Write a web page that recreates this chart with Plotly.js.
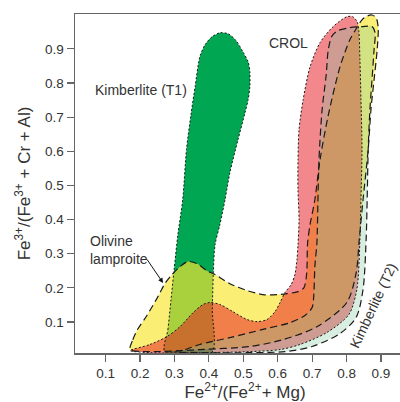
<!DOCTYPE html>
<html>
<head>
<meta charset="utf-8">
<script src="https://cdn.plot.ly/plotly-3.0.1.min.js"></script>
<style>
html,body{margin:0;padding:0;overflow:hidden;background:#fff;}
#chart{width:420px;height:402px;}
</style>
</head>
<body>
<div id="chart"></div>
<script>
// Field outlines (x = Fe2+/(Fe2+ + Mg), y = Fe3+/(Fe3+ + Cr + Al))
const t1X = [0.272,0.281,0.290,0.299,0.310,0.324,0.335,0.348,0.360,0.374,0.389,0.409,0.432,0.456,0.479,0.499,0.514,0.519,0.519,0.514,0.505,0.485,0.461,0.447,0.432,0.418,0.413,0.410,0.408];
const t1Y = [0.013,0.078,0.165,0.253,0.356,0.458,0.605,0.707,0.789,0.877,0.912,0.935,0.947,0.944,0.924,0.891,0.862,0.833,0.789,0.751,0.713,0.635,0.537,0.458,0.385,0.326,0.244,0.136,0.010];

const olX = [0.171,0.179,0.191,0.220,0.252,0.272,0.293,0.316,0.339,0.365,0.394,0.418,0.461,0.511,0.557,0.598,0.627,0.657,0.676,0.684,0.687,0.694,0.708,0.723,0.746,0.781,0.810,0.830,0.845,0.860,0.874,0.886,0.892,0.889,0.880,0.871,0.863,0.848,0.837,0.828,0.801,0.714,0.615,0.519,0.374,0.229];
const olY = [0.019,0.048,0.075,0.119,0.174,0.212,0.239,0.262,0.277,0.271,0.250,0.239,0.212,0.192,0.180,0.180,0.183,0.188,0.200,0.240,0.332,0.385,0.458,0.575,0.701,0.847,0.927,0.962,0.985,0.996,0.999,0.991,0.962,0.897,0.809,0.722,0.605,0.458,0.341,0.244,0.157,0.086,0.048,0.028,0.019,0.013];

const crolX = [0.171,0.229,0.278,0.316,0.354,0.383,0.403,0.432,0.470,0.511,0.540,0.569,0.592,0.607,0.621,0.639,0.650,0.656,0.659,0.662,0.659,0.659,0.662,0.674,0.694,0.723,0.761,0.801,0.818,0.831,0.836,0.839,0.842,0.845,0.842,0.839,0.830,0.807,0.743,0.665,0.607,0.519,0.374,0.229];
const crolY = [0.016,0.034,0.057,0.086,0.127,0.151,0.157,0.151,0.130,0.107,0.101,0.107,0.130,0.157,0.186,0.209,0.239,0.282,0.326,0.400,0.487,0.575,0.663,0.751,0.847,0.918,0.965,0.994,0.994,0.979,0.950,0.868,0.751,0.605,0.458,0.341,0.195,0.122,0.069,0.034,0.019,0.013,0.010,0.010];

const t2X = [0.302,0.331,0.374,0.461,0.557,0.636,0.679,0.700,0.705,0.708,0.714,0.717,0.720,0.729,0.741,0.747,0.758,0.775,0.810,0.845,0.874,0.883,0.880,0.874,0.868,0.863,0.860,0.857,0.848,0.828,0.781,0.700,0.621,0.519,0.374];
const t2Y = [0.013,0.019,0.034,0.054,0.078,0.098,0.119,0.142,0.180,0.262,0.332,0.458,0.575,0.721,0.824,0.897,0.938,0.953,0.962,0.965,0.965,0.947,0.897,0.809,0.722,0.605,0.458,0.341,0.195,0.113,0.066,0.028,0.013,0.010,0.010];

const tickVals = [0.1,0.2,0.3,0.4,0.5,0.6,0.7,0.8,0.9];
const tickText = ['0.1','0.2','0.3','0.4','0.5','0.6','0.7','0.8','0.9'];

const fields = [
  {x: t1X, y: t1Y, fill: 'rgb(0,166,81)', dash: '2px,2px', w: 1.0},
  {x: olX, y: olY, fill: 'rgba(248,230,52,0.68)', dash: '7px,4px', w: 1.2},
  {x: crolX, y: crolY, fill: 'rgba(230,25,34,0.52)', dash: '2px,2px', w: 1.0},
  {x: t2X, y: t2Y, fill: 'rgba(130,202,161,0.32)', dash: '7px,4px', w: 1.2}
];

const traces = [];
fields.forEach(f => {
  const cx = f.x.concat([f.x[0]]);
  const cy = f.y.concat([f.y[0]]);
  traces.push({x: cx, y: cy, type: 'scatter', mode: 'lines', fill: 'toself',
    fillcolor: f.fill, line: {width: 0, shape: 'spline', smoothing: 0.8},
    hoverinfo: 'skip', showlegend: false});
});
fields.forEach(f => {
  const cx = f.x.concat([f.x[0]]);
  const cy = f.y.concat([f.y[0]]);
  traces.push({x: cx, y: cy, type: 'scatter', mode: 'lines',
    line: {width: f.w, color: '#1a1a1a', dash: f.dash, shape: 'spline', smoothing: 0.8},
    hoverinfo: 'skip', showlegend: false});
});

const axisCommon = {
  showline: true, linecolor: '#666', linewidth: 1.5, mirror: true,
  ticks: 'outside', ticklen: 7, tickwidth: 1.2, tickcolor: '#666',
  showgrid: false, zeroline: false, tickmode: 'array',
  tickvals: tickVals, ticktext: tickText,
  tickfont: {size: 13.5, color: '#333'}
};

const layout = {
  width: 420, height: 402,
  margin: {l: 75, r: 5, t: 14, b: 49},
  paper_bgcolor: '#fff', plot_bgcolor: '#fff',
  font: {family: 'Liberation Sans, Arial, sans-serif', color: '#333'},
  xaxis: Object.assign({}, axisCommon, {
    range: [0.011, 0.999],
    title: {text: 'Fe<sup>2+</sup>/(Fe<sup>2+</sup>+ Mg)', font: {size: 17, color: '#333'}, standoff: 8}
  }),
  yaxis: Object.assign({}, axisCommon, {
    range: [0.009, 1.002],
    title: {text: 'Fe<sup>3+</sup>/(Fe<sup>3+</sup> + Cr + Al)', font: {size: 17, color: '#333'}, standoff: 10}
  }),
  annotations: [
    {x: 0.203, y: 0.78, xref: 'x', yref: 'y', text: 'Kimberlite (T1)', showarrow: false, font: {size: 14, color: '#333'}},
    {x: 0.63, y: 0.918, xref: 'x', yref: 'y', text: 'CROL', showarrow: false, font: {size: 14, color: '#333'}},
    {x: 0.0485, y: 0.312, xref: 'x', yref: 'y', text: 'Olivine<br>lamproite', showarrow: false, xanchor: 'left', align: 'left', font: {size: 14, color: '#333'}},
    {x: 0.267, y: 0.214, xref: 'x', yref: 'y', text: '', showarrow: true, ax: -17, ay: -25, arrowhead: 2, arrowsize: 1, arrowwidth: 1, arrowcolor: '#111', standoff: 0},
    {x: 0.876, y: 0.148, xref: 'x', yref: 'y', text: 'Kimberlite (T2)', showarrow: false, textangle: -65, font: {size: 14, color: '#333'}}
  ]
};

Plotly.newPlot('chart', traces, layout, {displayModeBar: false, staticPlot: true});
</script>
</body>
</html>
